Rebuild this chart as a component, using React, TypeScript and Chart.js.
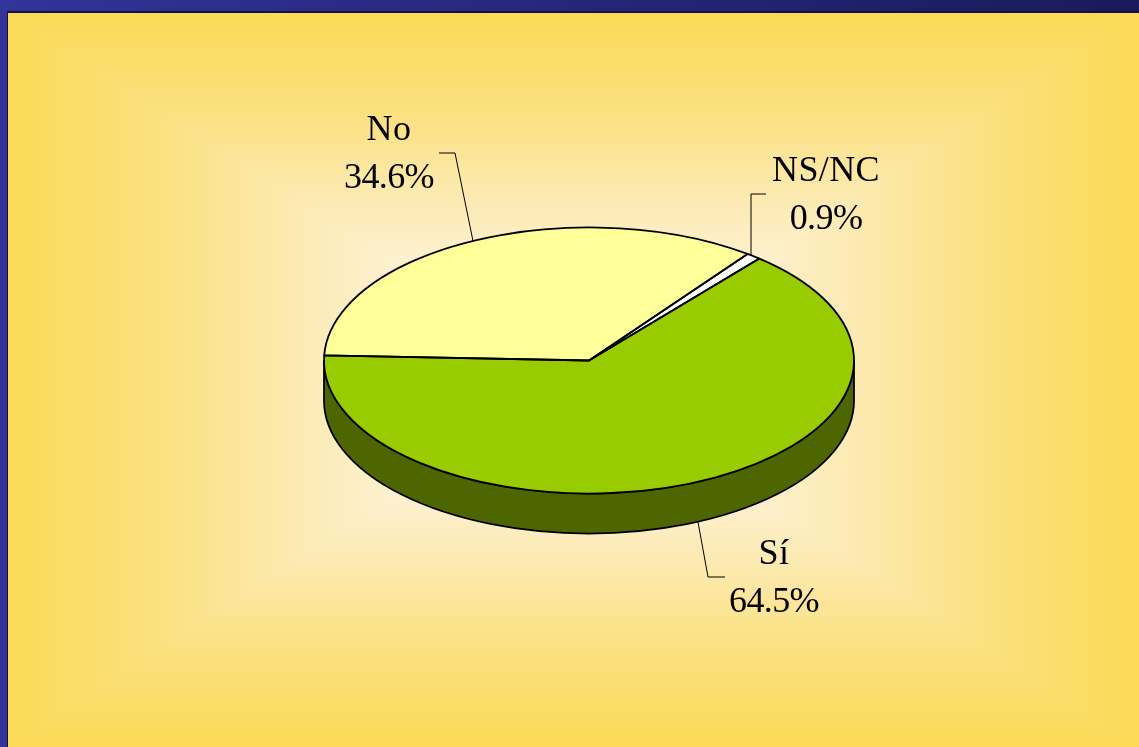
import React, { useEffect, useRef } from "react";
import { Chart, registerables } from "chart.js";

Chart.register(...registerables);

const categories = ["No", "NS/NC", "Sí"];
const values = [34.6, 0.9, 64.5];
const sliceColors = ["#FFFF99", "#FFFFFF", "#99CC00"];
const sideColor = "#4D6600";

const FLATTEN = 0.502;
const DEPTH = 40;

// label block centre, first baseline and leader line, per category
const labelCentres = [389, 826, 774];
const labelBaselines = [140, 181, 564];
const leaderX = [[439, 455, 473], [766, 751, 751], [698, 708, 725]];
const leaderY = [[153, 153, 241], [194, 194, 256], [522, 577, 577]];

const rampStops: [number, number[]][] = [
  [0, [251, 218, 88]],
  [0.25, [251, 224, 125]],
  [0.5, [252, 234, 178]],
  [0.75, [254, 243, 220]],
  [1, [255, 250, 240]],
];

function ramp(t: number) {
  for (let i = 1; i < rampStops.length; i++) {
    const [a, ca] = rampStops[i - 1];
    const [b, cb] = rampStops[i];
    if (t <= b) {
      const f = (t - a) / (b - a);
      return `rgb(${ca.map((c, k) => Math.round(c + (cb[k] - c) * f)).join(",")})`;
    }
  }
  return "rgb(255,250,240)";
}

const backgroundPlugin = {
  id: "slideBackground",
  beforeDraw(chart: any) {
    const { ctx, width, height } = chart;
    ctx.save();
    ctx.fillStyle = "#333399";
    ctx.fillRect(0, 0, 8, height);
    const band = ctx.createLinearGradient(0, 0, width, 0);
    band.addColorStop(0, "#333399");
    band.addColorStop(1, "#1A1A5A");
    ctx.fillStyle = band;
    ctx.fillRect(0, 0, width, 12);
    ctx.fillStyle = "#10104A";
    ctx.fillRect(7, 11, width - 7, 2);
    ctx.fillRect(7, 11, 1, height - 11);
    const x0 = 8, y0 = 13, w = width - x0, h = height - y0;
    const steps = 70;
    for (let i = 0; i < steps; i++) {
      const t = i / steps;
      ctx.fillStyle = ramp(t);
      const dx = (w / 2) * t, dy = (h / 2) * t;
      ctx.fillRect(x0 + dx, y0 + dy, w - 2 * dx, h - 2 * dy);
    }
    ctx.restore();
  },
};

function flat(ctx: CanvasRenderingContext2D, cy: number) {
  ctx.translate(0, cy);
  ctx.scale(1, FLATTEN);
  ctx.translate(0, -cy);
}

const tiltPlugin = {
  id: "tilt",
  beforeDatasetsDraw(chart: any) {
    const { ctx } = chart;
    const arcs = chart.getDatasetMeta(0).data;
    const offset = DEPTH / FLATTEN;
    arcs.forEach((arc: any) => {
      for (let k = -1; k <= 2; k++) {
        const a = Math.max(arc.startAngle, 2 * Math.PI * k);
        const b = Math.min(arc.endAngle, 2 * Math.PI * k + Math.PI);
        if (b <= a) continue;
        ctx.save();
        ctx.beginPath();
        ctx.save();
        flat(ctx, arc.y);
        ctx.arc(arc.x, arc.y, arc.outerRadius, a, b);
        ctx.arc(arc.x, arc.y + offset, arc.outerRadius, b, a, true);
        ctx.closePath();
        ctx.restore();
        ctx.fillStyle = sideColor;
        ctx.fill();
        ctx.strokeStyle = "#000";
        ctx.lineWidth = 1.8;
        ctx.stroke();
        ctx.restore();
      }
    });
    ctx.save();
    const first = arcs[0];
    flat(ctx, first.y);
  },
  afterDatasetsDraw(chart: any) {
    const { ctx } = chart;
    ctx.restore();
    const arcs = chart.getDatasetMeta(0).data;
    arcs.forEach((arc: any) => {
      ctx.save();
      ctx.beginPath();
      ctx.save();
      flat(ctx, arc.y);
      ctx.moveTo(arc.x, arc.y);
      ctx.arc(arc.x, arc.y, arc.outerRadius, arc.startAngle, arc.endAngle);
      ctx.closePath();
      ctx.restore();
      ctx.strokeStyle = "#000";
      ctx.lineWidth = 1.8;
      ctx.lineJoin = "round";
      ctx.stroke();
      ctx.restore();
    });
    // leader lines and labels
    ctx.save();
    ctx.strokeStyle = "#000";
    ctx.lineWidth = 1;
    categories.forEach((_, i) => {
      ctx.beginPath();
      leaderX[i].forEach((x, j) => {
        if (j === 0) ctx.moveTo(x, leaderY[i][j]);
        else ctx.lineTo(x, leaderY[i][j]);
      });
      ctx.stroke();
    });
    ctx.fillStyle = "#000";
    ctx.font = '36px "Liberation Serif", serif';
    ctx.textAlign = "center";
    ctx.textBaseline = "alphabetic";
    categories.forEach((name, i) => {
      (ctx as any).letterSpacing = "0.4px";
      ctx.fillText(name, labelCentres[i], labelBaselines[i]);
      (ctx as any).letterSpacing = "-0.6px";
      ctx.fillText(`${values[i].toFixed(1)}%`, labelCentres[i], labelBaselines[i] + 48);
    });
    ctx.restore();
  },
};

export default function App() {
  const ref = useRef<HTMLCanvasElement>(null);
  useEffect(() => {
    const chart = new Chart(ref.current as HTMLCanvasElement, {
      type: "pie",
      data: {
        labels: categories,
        datasets: [
          {
            data: values,
            backgroundColor: sliceColors,
            borderWidth: 0,
          },
        ],
      },
      options: {
        responsive: false,
        animation: false,
        rotation: 272.2,
        radius: 265,
        layout: { padding: { left: 39, bottom: 26, right: 0, top: 0 } },
        plugins: { legend: { display: false }, tooltip: { enabled: false } },
      },
      plugins: [backgroundPlugin, tiltPlugin],
    } as any);
    return () => chart.destroy();
  }, []);
  return (
    <div style={{ position: "fixed", left: 0, top: 0, width: 1139, height: 747 }}>
      <canvas ref={ref} width={1139} height={747} style={{ display: "block" }} />
    </div>
  );
}
